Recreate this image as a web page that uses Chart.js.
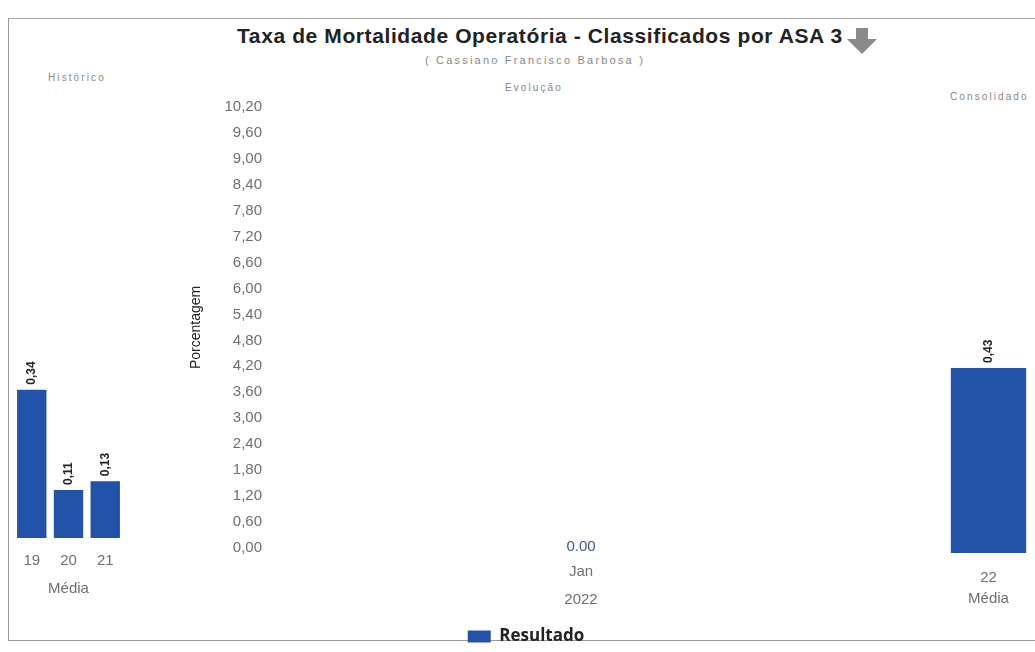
<!DOCTYPE html>
<html>
<head>
<meta charset="utf-8">
<script src="https://cdn.jsdelivr.net/npm/chart.js@4.4.0/dist/chart.umd.min.js"></script>
<style>
body { margin: 0; background: #fff; font-family: "Liberation Sans", Arial, sans-serif; width: 1035px; height: 652px; overflow: hidden; position: relative; }
#frame { position: absolute; left: 8px; top: 18px; width: 1100px; height: 621px; border-left: 1px solid #999; border-top: 1px solid #aaa; border-bottom: 1px solid #999; }
#title { position: absolute; left: 237px; top: 24px; font-size: 21px; font-weight: bold; color: #222; white-space: nowrap; letter-spacing: 0.6px; }
#arrow { position: absolute; left: 846px; top: 28px; }
#subtitle { position: absolute; left: 425px; top: 54px; font-size: 11px; color: #888; letter-spacing: 2.2px; white-space: nowrap; }
.panel { position: absolute; font-size: 10px; color: #888; white-space: nowrap; letter-spacing: 2.1px; }
.box { position: absolute; }
</style>
</head>
<body>
<div id="frame"></div>
<div id="title">Taxa de Mortalidade Operatória - Classificados por ASA 3</div>
<svg id="arrow" width="32" height="26" viewBox="0 0 32 26"><polygon points="10,0 22,0 22,11 31,11 16,26 1,11 10,11" fill="#8a8a8a"/></svg>
<div id="subtitle">( Cassiano Francisco Barbosa )</div>
<div class="panel" style="left:48px;top:72px">Histórico</div>
<div class="panel" style="left:505px;top:82px">Evolução</div>
<div class="panel" style="left:950px;top:91px">Consolidado</div>

<div class="box" style="left:10px;top:93px;width:117px;height:501px"><canvas id="hist"></canvas></div>
<div class="box" style="left:162px;top:88px;width:728px;height:567px"><canvas id="evo"></canvas></div>
<div class="box" style="left:942px;top:114px;width:93px;height:510px"><canvas id="cons"></canvas></div>

<script>
// dados
const histCategories = ['19', '20', '21'];
const histValues = [0.34, 0.11, 0.13];
const evoLabels = [['Jan', '2022']];
const evoValues = [0];
const consCategories = ['22'];
const consValues = [0.43];
const axisName = 'Média';

const barColor = '#2352a9';
const tickColor = '#6f6f6f';

// escreve o valor em cima de cada barra
const valueLabels = {
    id: 'valueLabels',
    afterDatasetsDraw(chart, args, opts) {
        const ctx = chart.ctx;
        chart.data.datasets.forEach((ds, i) => {
            chart.getDatasetMeta(i).data.forEach((bar, j) => {
                let v = ds.data[j];
                let txt = opts.comma ? v.toFixed(2).replace('.', ',') : v.toFixed(2);
                ctx.save();
                ctx.font = opts.font;
                ctx.fillStyle = opts.color;
                if (opts.rotate) {
                    ctx.translate(bar.x, bar.y - 5);
                    ctx.rotate(-Math.PI / 2);
                    ctx.textAlign = 'left';
                    ctx.textBaseline = 'middle';
                    ctx.fillText(txt, 0, 0);
                } else {
                    ctx.textAlign = 'center';
                    ctx.textBaseline = 'middle';
                    ctx.fillText(txt, bar.x, bar.y - 1);
                }
                ctx.restore();
            });
        });
    }
};

const sideLabelOpts = { rotate: true, comma: true, font: 'bold 12px "Liberation Sans Narrow", "Liberation Sans", Arial', color: '#222' };

// histórico: 3 anos com título do eixo
new Chart(document.getElementById('hist'), {
    type: 'bar',
    data: {
        labels: histCategories,
        datasets: [{ label: 'Resultado', data: histValues, backgroundColor: barColor, categoryPercentage: 1, barPercentage: 0.8 }]
    },
    plugins: [valueLabels],
    options: {
        responsive: true,
        maintainAspectRatio: false,
        animation: false,
        plugins: { legend: { display: false }, tooltip: { enabled: false }, valueLabels: sideLabelOpts },
        scales: {
            x: {
                grid: { display: false, drawTicks: false },
                border: { display: false },
                ticks: { color: tickColor, font: { size: 15 }, padding: 14 },
                title: { display: true, text: axisName, color: tickColor, font: { size: 15, lineHeight: 0.67 }, padding: 0 }
            },
            y: { display: false, min: 0, max: 1.02 }
        }
    }
});

// consolidado: uma barra, nome do eixo logo abaixo do rótulo
new Chart(document.getElementById('cons'), {
    type: 'bar',
    data: {
        labels: consCategories.map(c => [c, axisName]),
        datasets: [{ label: 'Resultado', data: consValues, backgroundColor: barColor, categoryPercentage: 1, barPercentage: 0.81 }]
    },
    plugins: [valueLabels],
    options: {
        responsive: true,
        maintainAspectRatio: false,
        animation: false,
        plugins: { legend: { display: false }, tooltip: { enabled: false }, valueLabels: sideLabelOpts },
        scales: {
            x: {
                grid: { display: false, drawTicks: false },
                border: { display: false },
                ticks: { color: tickColor, font: { size: 15, lineHeight: 1.4 }, padding: 14.5 }
            },
            y: { display: false, min: 0, max: 1.02 }
        }
    }
});

new Chart(document.getElementById('evo'), {
    type: 'bar',
    data: {
        labels: evoLabels,
        datasets: [{ label: 'Resultado', data: evoValues, backgroundColor: barColor }]
    },
    plugins: [valueLabels],
    options: {
        responsive: true,
        maintainAspectRatio: false,
        animation: false,
        plugins: {
            legend: {
                position: 'bottom',
                labels: { boxWidth: 23, boxHeight: 12, color: '#222', font: { family: '"Open Sans", "Liberation Sans", Arial', size: 17, weight: 'bold' }, padding: 4 }
            },
            tooltip: { enabled: false },
            valueLabels: { rotate: false, comma: false, font: '15px "Liberation Sans", Arial', color: '#3d5a8c' }
        },
        scales: {
            x: {
                grid: { display: false, drawTicks: false },
                border: { display: false },
                ticks: { color: tickColor, font: { size: 15, lineHeight: 1.87 }, padding: 10 }
            },
            y: {
                min: 0,
                max: 10.2,
                grid: { display: false, drawTicks: false },
                border: { display: false },
                afterFit: s => { s.width = 110; },
                ticks: {
                    stepSize: 0.6,
                    color: tickColor,
                    font: { size: 15 },
                    padding: 10,
                    callback: v => v.toFixed(2).replace('.', ',')
                },
                title: { display: true, text: 'Porcentagem', color: '#222', font: { size: 14 }, padding: { top: 26, bottom: 0 } }
            }
        }
    }
});
</script>
</body>
</html>
